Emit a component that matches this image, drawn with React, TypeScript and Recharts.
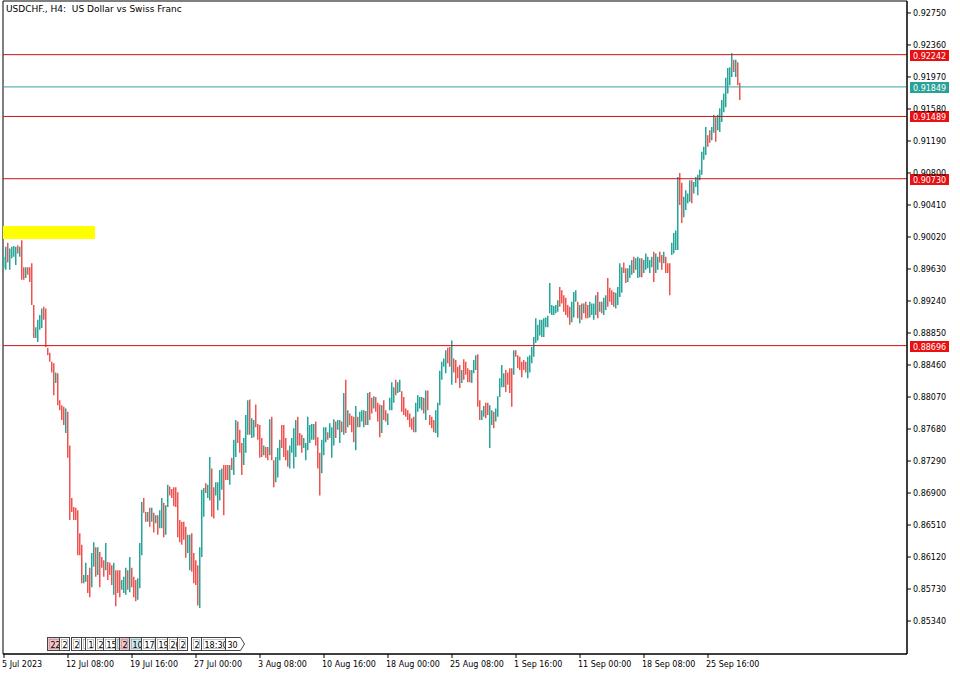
import React from "react";
import { Bar, ComposedChart, ReferenceArea, ReferenceDot, ReferenceLine, XAxis, YAxis } from "recharts";

// USDCHF H4 bars (high / low per bar, u = up bar, d = down bar)
const highs = [
  0.8978, 0.899, 0.8995, 0.8988, 0.899, 0.8991, 0.899, 0.8992, 0.899, 0.8998,
  0.8965, 0.8965, 0.8965, 0.8965, 0.897, 0.8919, 0.8892, 0.8901, 0.8907, 0.8915,
  0.8917, 0.8915, 0.8867, 0.8861, 0.885, 0.8848, 0.8837, 0.8836, 0.8803, 0.8797,
  0.8795, 0.8793, 0.8789, 0.8748, 0.8684, 0.8673, 0.8672, 0.8669, 0.8641, 0.8627,
  0.859, 0.8605, 0.859, 0.8599, 0.8617, 0.863, 0.8624, 0.8624, 0.8618, 0.8612,
  0.8608, 0.8629, 0.8606, 0.8605, 0.8602, 0.8605, 0.8596, 0.8596, 0.8596, 0.8584,
  0.8588, 0.8599, 0.8596, 0.8612, 0.8599, 0.8588, 0.8584, 0.8586, 0.8629, 0.8679,
  0.8684, 0.8667, 0.8667, 0.8672, 0.8672, 0.8666, 0.8663, 0.8663, 0.8669, 0.8684,
  0.8678, 0.8675, 0.87, 0.8698, 0.8695, 0.8697, 0.8697, 0.8691, 0.8657, 0.8655,
  0.8655, 0.8649, 0.8639, 0.8639, 0.8641, 0.8617, 0.8608, 0.8602, 0.8624, 0.8694,
  0.8696, 0.8702, 0.87, 0.8734, 0.872, 0.8697, 0.8703, 0.8703, 0.8718, 0.872,
  0.8724, 0.8724, 0.8724, 0.8724, 0.8733, 0.8755, 0.8779, 0.8777, 0.8767, 0.8751,
  0.8757, 0.8785, 0.8803, 0.8804, 0.8781, 0.8779, 0.8798, 0.8774, 0.8773, 0.8757,
  0.8748, 0.8746, 0.8746, 0.878, 0.8783, 0.873, 0.8734, 0.8745, 0.8755, 0.8773,
  0.8773, 0.8757, 0.8742, 0.8748, 0.8757, 0.8769, 0.8779, 0.8783, 0.8763, 0.8761,
  0.8757, 0.8751, 0.8783, 0.8773, 0.8774, 0.8774, 0.8777, 0.8758, 0.8739, 0.8755,
  0.877, 0.877, 0.8764, 0.8775, 0.877, 0.878, 0.8777, 0.8779, 0.8779, 0.8777,
  0.8812, 0.8828, 0.8791, 0.8787, 0.8784, 0.8783, 0.8796, 0.8783, 0.8789, 0.8791,
  0.8791, 0.879, 0.8812, 0.8813, 0.8806, 0.8808, 0.8807, 0.88, 0.8798, 0.8797,
  0.8803, 0.8791, 0.8787, 0.8806, 0.8825, 0.8819, 0.8828, 0.8825, 0.8828, 0.8814,
  0.8807, 0.8793, 0.8791, 0.8787, 0.8781, 0.8783, 0.88, 0.8809, 0.8807, 0.8807,
  0.8806, 0.8815, 0.8815, 0.8785, 0.8783, 0.8779, 0.8791, 0.88, 0.8839, 0.885,
  0.8854, 0.8864, 0.8867, 0.8868, 0.8876, 0.8854, 0.8852, 0.8844, 0.8846, 0.884,
  0.8853, 0.885, 0.8842, 0.884, 0.884, 0.8852, 0.8858, 0.8859, 0.8803, 0.8791,
  0.8796, 0.88, 0.88, 0.8797, 0.8791, 0.8789, 0.8793, 0.8808, 0.883, 0.8846,
  0.8836, 0.884, 0.8837, 0.8842, 0.8842, 0.8864, 0.8864, 0.8858, 0.8856, 0.885,
  0.8852, 0.885, 0.8856, 0.8858, 0.8868, 0.888, 0.8903, 0.8895, 0.8901, 0.8901,
  0.8903, 0.8904, 0.8906, 0.8946, 0.8919, 0.8918, 0.8919, 0.8925, 0.8941, 0.8937,
  0.8931, 0.8928, 0.8919, 0.8917, 0.8923, 0.8935, 0.8937, 0.8923, 0.8919, 0.8921,
  0.8921, 0.8923, 0.8919, 0.8923, 0.8921, 0.8921, 0.8931, 0.8935, 0.8923, 0.8923,
  0.8928, 0.8931, 0.8952, 0.894, 0.8937, 0.8935, 0.8934, 0.8941, 0.897, 0.8965,
  0.8971, 0.8964, 0.8964, 0.8968, 0.8974, 0.8978, 0.8976, 0.8978, 0.8976, 0.8976,
  0.8974, 0.8982, 0.8978, 0.8974, 0.8978, 0.8984, 0.8982, 0.8978, 0.8984, 0.898,
  0.8984, 0.8978, 0.897, 0.897, 0.8995, 0.9007, 0.901, 0.9075, 0.908, 0.9068,
  0.9051, 0.9059, 0.9055, 0.9071, 0.9071, 0.9069, 0.9075, 0.9078, 0.9084, 0.9106,
  0.9112, 0.9136, 0.9126, 0.9132, 0.9136, 0.9151, 0.9148, 0.9151, 0.9159, 0.9169,
  0.9177, 0.9196, 0.9208, 0.9209, 0.9226, 0.9218, 0.9218, 0.9215, 0.919,
];

const lows = [
  0.8964, 0.8962, 0.8971, 0.8962, 0.8976, 0.8978, 0.8968, 0.8982, 0.8978, 0.895,
  0.895, 0.8952, 0.8956, 0.8947, 0.8919, 0.8879, 0.8879, 0.8874, 0.8889, 0.8891,
  0.8901, 0.8868, 0.8858, 0.885, 0.8837, 0.8809, 0.8824, 0.8797, 0.8791, 0.8779,
  0.8773, 0.8763, 0.8733, 0.8657, 0.8667, 0.8657, 0.8657, 0.8614, 0.8614, 0.858,
  0.858, 0.8582, 0.8568, 0.8563, 0.8575, 0.86, 0.8588, 0.859, 0.8575, 0.8599,
  0.8588, 0.8596, 0.8584, 0.859, 0.8578, 0.8566, 0.8552, 0.8568, 0.8563, 0.8572,
  0.8568, 0.8566, 0.8572, 0.8569, 0.8575, 0.8563, 0.8558, 0.856, 0.8574, 0.8614,
  0.8666, 0.8655, 0.8655, 0.8649, 0.8655, 0.8642, 0.8653, 0.8639, 0.8647, 0.8647,
  0.8636, 0.8639, 0.8673, 0.8687, 0.8684, 0.8674, 0.8673, 0.8636, 0.863, 0.8627,
  0.8633, 0.8611, 0.8617, 0.8596, 0.8594, 0.858, 0.8578, 0.8553, 0.855, 0.8612,
  0.8661, 0.869, 0.8684, 0.8681, 0.8661, 0.8659, 0.8687, 0.8669, 0.8681, 0.8694,
  0.8663, 0.8706, 0.8706, 0.87, 0.8718, 0.8712, 0.8734, 0.8751, 0.8739, 0.8712,
  0.8724, 0.8739, 0.8761, 0.8761, 0.8757, 0.8758, 0.877, 0.8755, 0.8733, 0.8734,
  0.8736, 0.8733, 0.873, 0.8736, 0.873, 0.8697, 0.8703, 0.8709, 0.873, 0.8745,
  0.8734, 0.873, 0.8722, 0.872, 0.8739, 0.872, 0.8734, 0.8748, 0.8748, 0.8739,
  0.8745, 0.873, 0.8742, 0.8751, 0.8755, 0.8755, 0.8748, 0.872, 0.8687, 0.8714,
  0.8736, 0.8752, 0.8755, 0.8757, 0.8733, 0.8748, 0.8757, 0.8767, 0.8751, 0.8764,
  0.8761, 0.8763, 0.877, 0.8773, 0.8764, 0.8752, 0.8742, 0.877, 0.877, 0.8777,
  0.877, 0.8773, 0.8773, 0.8779, 0.8787, 0.8793, 0.8789, 0.8777, 0.8758, 0.8763,
  0.8779, 0.8777, 0.8773, 0.8791, 0.8791, 0.88, 0.8809, 0.8812, 0.8813, 0.8789,
  0.8785, 0.8783, 0.8779, 0.877, 0.8767, 0.8764, 0.8764, 0.8789, 0.8793, 0.8791,
  0.8787, 0.8779, 0.8791, 0.8773, 0.8769, 0.8764, 0.8763, 0.8758, 0.8797, 0.8828,
  0.8844, 0.8836, 0.8848, 0.8844, 0.8822, 0.8837, 0.8824, 0.883, 0.8818, 0.8824,
  0.8828, 0.8834, 0.8825, 0.8825, 0.8824, 0.8836, 0.884, 0.8795, 0.8779, 0.8779,
  0.8783, 0.8781, 0.8785, 0.8745, 0.8773, 0.8769, 0.8777, 0.8783, 0.8807, 0.8819,
  0.8819, 0.8813, 0.8822, 0.8812, 0.8795, 0.8834, 0.8856, 0.8842, 0.884, 0.8831,
  0.884, 0.8837, 0.883, 0.8837, 0.8848, 0.8856, 0.8873, 0.8876, 0.8882, 0.888,
  0.888, 0.8892, 0.8892, 0.8909, 0.8907, 0.8907, 0.8909, 0.8911, 0.8917, 0.8921,
  0.8911, 0.8907, 0.8904, 0.8895, 0.8898, 0.8904, 0.8923, 0.8903, 0.8897, 0.8901,
  0.8909, 0.8903, 0.8903, 0.8904, 0.8907, 0.8901, 0.8907, 0.8903, 0.8911, 0.8909,
  0.8907, 0.8913, 0.8917, 0.8923, 0.8919, 0.8917, 0.8915, 0.8919, 0.8929, 0.8934,
  0.8958, 0.8946, 0.8947, 0.8952, 0.8956, 0.8958, 0.8962, 0.8952, 0.8953, 0.8953,
  0.8958, 0.8962, 0.8964, 0.8958, 0.8965, 0.8947, 0.8958, 0.8962, 0.8971, 0.8962,
  0.897, 0.8958, 0.8958, 0.8931, 0.898, 0.8982, 0.8986, 0.8986, 0.9041, 0.9019,
  0.9026, 0.9035, 0.9043, 0.9045, 0.9043, 0.9055, 0.9063, 0.9053, 0.9071, 0.9078,
  0.9096, 0.9102, 0.9112, 0.9117, 0.912, 0.9129, 0.9118, 0.9132, 0.913, 0.9142,
  0.9154, 0.916, 0.9177, 0.9187, 0.9197, 0.9203, 0.9197, 0.9187, 0.9169,
];

const direction = [
  "uuduuuudud", "dudddduuuu", "dddddduddd", "dudddddddd", "uudduududd",
  "dudddudddu", "uududdduuu", "ddudududuu", "duuddddddd", "dduudddduu",
  "uduudduuuu", "ddduduuddd", "uuuduudddd", "uddudduuud", "ddduuuuddd",
  "uuuuuudddu", "uuduuuduud", "ududdduduu", "ududdudddu", "dduuuuduud",
  "dddddduuuu", "dudddduuuu", "uudduddddu", "dddduuuddu", "udduuduuuu",
  "uddddudddd", "dduuuuuuuu", "uuuuuuuudd", "dddduuudud", "udduuuudud",
  "uudddduuuu", "dduuuduuud", "uuuuuduudd", "uddduuuudd", "uuuuduuuuu",
  "uudduuduuu", "uuuuududd",
].join("");

const timeTicks = [0, 32, 64, 96, 128, 160, 192, 224, 256, 288, 320, 352];
const timeLabels = [
  "5 Jul 2023", "12 Jul 08:00", "19 Jul 16:00", "27 Jul 00:00", "3 Aug 08:00", "10 Aug 16:00",
  "18 Aug 00:00", "25 Aug 08:00", "1 Sep 16:00", "11 Sep 00:00", "18 Sep 08:00", "25 Sep 16:00",
];

const priceTicks = [
  0.8534, 0.8573, 0.8612, 0.8651, 0.869, 0.8729, 0.8768, 0.8807, 0.8846, 0.8885,
  0.8924, 0.8963, 0.9002, 0.9041, 0.908, 0.9119, 0.9158, 0.9197, 0.9236, 0.9275,
];

const levelPrices = [0.92242, 0.91489, 0.9073, 0.88696];
const bidPrice = 0.91849;

// yellow box at the start of the chart
const zoneBars = [0, 45];
const zonePrices = [0.89996, 0.90154];

// calendar event flags along the bottom
const eventBars = [22, 28, 34, 39, 41, 46, 50, 56, 58, 63, 69, 76, 82, 87, 94, 99, 111];
const eventLabels = ["22", "2", "2", "1", "1", "2", "15", "", "2", "10", "17", "19", "20", "2", "2", "18:30", "30"];
const eventTones = ["high", "", "", "", "", "", "", "low", "high", "low", "", "", "", "", "", "", ""];

const UP = "#26a69a";
const DOWN = "#ef5350";
const LEVEL = "#cc1111";
const FONT = "DejaVu Sans";
const PRICE_MIN = 0.84938;
const PRICE_MAX = 0.92896;

const bars = highs.map((h, i) => ({ i, range: [lows[i], h], up: direction[i] === "u" }));

const renderBar = (props: any) => {
  const { x, y, width, height, index } = props;
  const entry = bars[index];
  const cx = Math.round(x + width / 2 - 0.5);
  return (
    <line
      key={`b${index}`}
      x1={cx + 0.75}
      x2={cx + 0.75}
      y1={y}
      y2={y + Math.max(1, height)}
      stroke={entry && entry.up ? UP : DOWN}
      strokeWidth={1.5}
    />
  );
};

const TimeTick = (props: any) => {
  const { x, y, payload } = props;
  const idx = timeTicks.indexOf(payload.value);
  return (
    <text x={x - 2} y={y + 7} fontSize={8} fontFamily={FONT} fill="#000">
      {timeLabels[idx]}
    </text>
  );
};

const PriceTag = ({ viewBox, price, color }: any) => {
  const x = viewBox.x + viewBox.width + 3;
  const y = Math.round(viewBox.y);
  return (
    <g>
      <rect x={x} y={y - 5} width={39} height={11} fill={color} />
      <text x={x + 3} y={y + 3.5} fontSize={8} fontFamily={FONT} fill="#fff">
        {price.toFixed(5)}
      </text>
    </g>
  );
};

const EventFlag = ({ cx, cy, label, tone, last }: any) => {
  const x = Math.round(cx) - 0.5;
  const top = Math.round(cy) - 16.5;
  const w = Math.max(6, label.length * 5 + 5);
  const fill = tone === "high" ? "#f4c2c8" : tone === "low" ? "#cfe8f0" : "#fff";
  if (last) {
    return (
      <g>
        <path d={`M${x},${top} h${w} l4,6.5 l-4,6.5 h-${w} z`} fill="#fff" stroke="#444" />
        <text x={x + 2} y={top + 10} fontSize={8} fontFamily={FONT} fill="#000">{label}</text>
      </g>
    );
  }
  return (
    <g>
      <rect x={x} y={top} width={w} height={13} fill={fill} stroke="#444" />
      <rect x={x + 2} y={top + 2} width={w - 4} height={9} fill="none" stroke="#888" strokeWidth={0.5} />
      <text x={x + 3} y={top + 10} fontSize={8} fontFamily={FONT} fill="#000">{label}</text>
    </g>
  );
};

export default function App() {
  return (
    <div style={{ position: "absolute", left: 0, top: 0, width: 960, height: 675, background: "#fff" }}>
      <ComposedChart width={960} height={675} data={bars} margin={{ top: 1, right: 0, bottom: 0, left: 3 }}>
        <XAxis
          dataKey="i"
          type="number"
          domain={[-0.5, 451.5]}
          ticks={timeTicks}
          interval={0}
          height={21}
          tickSize={4}
          tickLine={{ stroke: "#000" }}
          axisLine={{ stroke: "#000" }}
          tick={<TimeTick />}
        />
        <YAxis
          orientation="right"
          type="number"
          domain={[PRICE_MIN, PRICE_MAX]}
          allowDataOverflow
          ticks={priceTicks}
          interval={0}
          width={53}
          tickSize={4}
          tickLine={{ stroke: "#000" }}
          axisLine={{ stroke: "#000" }}
          tick={{ fontSize: 8, fontFamily: FONT, fill: "#000" }}
          tickFormatter={(v: number) => v.toFixed(5)}
        />
        <ReferenceArea x1={-0.5} x2={451.5} y1={PRICE_MIN} y2={PRICE_MAX} fill="none" stroke="#000" />
        <ReferenceArea
          x1={zoneBars[0] - 0.5}
          x2={zoneBars[1] + 0.5}
          y1={zonePrices[0]}
          y2={zonePrices[1]}
          fill="#ffff00"
          fillOpacity={1}
          stroke="none"
        />
        <Bar dataKey="range" barSize={1} fill={DOWN} shape={renderBar} isAnimationActive={false} />
        {levelPrices.map((p) => (
          <ReferenceLine
            key={p}
            y={p}
            stroke={LEVEL}
            label={(lp: any) => <PriceTag viewBox={lp.viewBox} price={p} color="#e81010" />}
          />
        ))}
        <ReferenceLine
          y={bidPrice}
          stroke="#3f9f9f"
          label={(lp: any) => <PriceTag viewBox={lp.viewBox} price={bidPrice} color="#2aa198" />}
        />
        {eventBars.map((b, k) => (
          <ReferenceDot
            key={k}
            x={b}
            y={PRICE_MIN}
            r={0}
            shape={(sp: any) => (
              <EventFlag
                cx={sp.cx}
                cy={sp.cy}
                label={eventLabels[k]}
                tone={eventTones[k]}
                last={k === eventBars.length - 1}
              />
            )}
          />
        ))}
      </ComposedChart>
      <div
        style={{
          position: "absolute",
          left: 6,
          top: 5,
          fontFamily: FONT,
          fontSize: 9,
          lineHeight: "9px",
          whiteSpace: "pre",
          color: "#000",
        }}
      >
        {"USDCHF., H4:  US Dollar vs Swiss Franc"}
      </div>
    </div>
  );
}
